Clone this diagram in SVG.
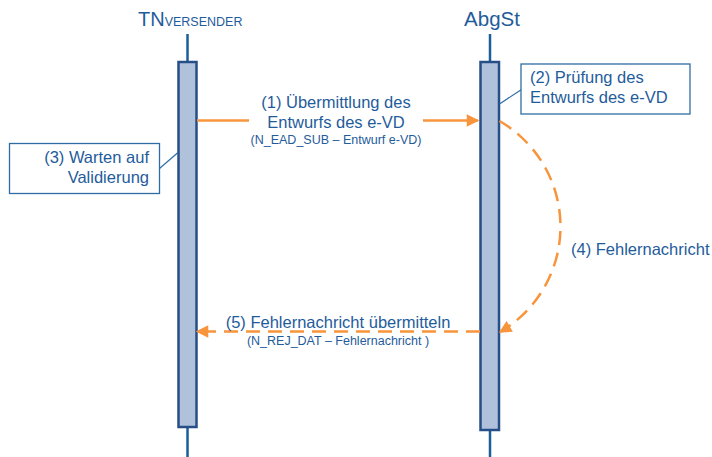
<svg xmlns="http://www.w3.org/2000/svg" width="712" height="457" viewBox="0 0 712 457">
<style>
  text { font-family: "Liberation Sans", Arial, sans-serif; fill: #1F5C9B; }
  .lbl { font-size: 16.5px; }
  .sub { font-size: 12.5px; }
  .life { stroke: #1B5E9A; stroke-width: 2.5; }
  .bar { fill: #B0C2DB; stroke: #264E87; stroke-width: 2.5; }
  .note { fill: #FFFFFF; stroke: #2E6DA4; stroke-width: 1.3; }
  .noteline { stroke: #2E6DA4; stroke-width: 1.2; }
  .msg { fill: none; stroke: #F7943C; stroke-width: 2.5; }
  .dash { stroke-dasharray: 14 8; }
</style>
<defs>
  <marker id="arr" viewBox="0 0 10 10" refX="9" refY="5" markerWidth="5.5" markerHeight="5" orient="auto" markerUnits="strokeWidth">
    <path d="M0,0 L10,5 L0,10 z" fill="#F7943C"/>
  </marker>
</defs>
<rect width="712" height="457" fill="#FFFFFF"/>

<g id="tn-versender">
  <text x="138" y="26" font-size="20">TN<tspan font-size="12.5">VERSENDER</tspan></text>
  <line class="life" x1="187.5" y1="34" x2="187.5" y2="62"/>
  <line class="life" x1="187.5" y1="427" x2="187.5" y2="457"/>
  <rect class="bar" x="178.5" y="62" width="18" height="365"/>
</g>

<g id="abgst">
  <text x="492" y="26" font-size="20.5" text-anchor="middle">AbgSt</text>
  <line class="life" x1="490" y1="34" x2="490" y2="62"/>
  <line class="life" x1="490" y1="430" x2="490" y2="457"/>
  <rect class="bar" x="480.5" y="62" width="18.5" height="368"/>
</g>

<g id="note2">
  <line class="noteline" x1="521.5" y1="89.5" x2="499.5" y2="104"/>
  <rect class="note" x="521" y="64" width="169" height="50"/>
  <text class="lbl" x="530" y="83">(2) Prüfung des</text>
  <text class="lbl" x="530" y="103">Entwurfs des e-VD</text>
</g>

<g id="note3">
  <line class="noteline" x1="159.5" y1="168.5" x2="178" y2="152.5"/>
  <rect class="note" x="9.5" y="143.5" width="150" height="50"/>
  <text class="lbl" x="149" y="163" text-anchor="end">(3) Warten auf</text>
  <text class="lbl" x="149" y="183" text-anchor="end">Validierung</text>
</g>

<g id="connectors">
  <g id="msg1">
    <line class="msg" x1="197" y1="120.5" x2="249" y2="120.5"/>
    <line class="msg" x1="423" y1="120.5" x2="478" y2="120.5" marker-end="url(#arr)"/>
    <text class="lbl" x="336" y="108" text-anchor="middle">(1) Übermittlung des</text>
    <text class="lbl" x="336" y="128" text-anchor="middle">Entwurfs des e-VD</text>
    <text class="sub" x="336" y="144" text-anchor="middle">(N_EAD_SUB – Entwurf e-VD)</text>
  </g>
  <g id="msg4">
    <path class="msg dash" d="M 499.5 121 A 122 122 0 0 1 500 332" marker-end="url(#arr)"/>
    <text class="lbl" x="571" y="255">(4) Fehlernachricht</text>
  </g>
  <g id="msg5">
    <line class="msg dash" x1="480" y1="331.5" x2="197" y2="331.5" marker-end="url(#arr)"/>
    <text class="lbl" x="338" y="328" text-anchor="middle">(5) Fehlernachricht übermitteln</text>
    <text class="sub" x="338" y="345" text-anchor="middle">(N_REJ_DAT – Fehlernachricht )</text>
  </g>
</g>
</svg>
